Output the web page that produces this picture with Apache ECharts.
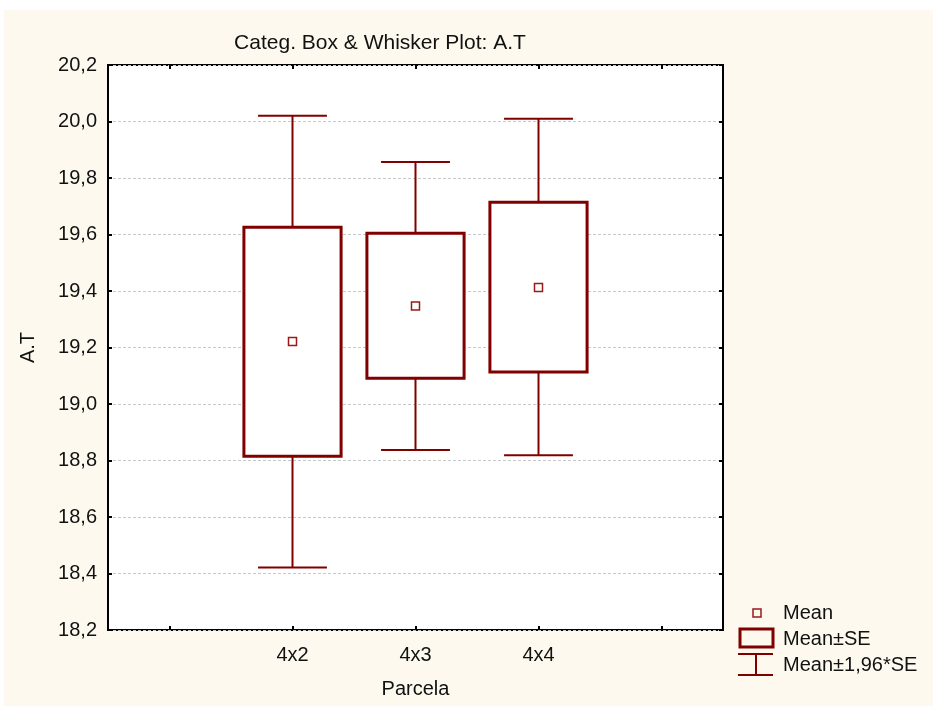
<!DOCTYPE html>
<html>
<head>
<meta charset="utf-8">
<title>Categ. Box &amp; Whisker Plot: A.T</title>
<script src="https://cdn.jsdelivr.net/npm/echarts@6/dist/echarts.min.js"></script>
<style>
  html, body { margin: 0; padding: 0; background: #ffffff; }
  #chart { width: 933px; height: 706px; }
</style>
</head>
<body>
<div id="chart"></div>
<script>
// Groups (Parcela) and the statistics of A.T for each group
const groups = ['4x2', '4x3', '4x4'];
const means = [19.221, 19.347, 19.412];
const seLow = [18.815, 19.091, 19.113];
const seHigh = [19.626, 19.604, 19.714];
const ciLow = [18.421, 18.837, 18.819];
const ciHigh = [20.020, 19.857, 20.010];

// Axis setup
const axisCategories = [''].concat(groups, ['']);
const yMin = 18.2;
const yMax = 20.2;
const yStep = 0.2;

const legendNames = ['Mean', 'Mean\u00b1SE', 'Mean\u00b11,96*SE'];

const RED = '#800000';
const PANEL = '#fdf9ee';
const FONT = "'Liberation Sans', Arial, sans-serif";
const FS = 20;
const KEY_FONT = FS + "px 'Liberation Sans', Arial, sans-serif";

const boxData = groups.map((g, i) => [g, means[i], seLow[i], seHigh[i], ciLow[i], ciHigh[i]]);

function renderBox(params, api) {
  const cat = api.value(0);
  const band = api.size([1, 0])[0];
  const boxHalf = band * 0.395;
  const capHalf = band * 0.28;
  const pMean = api.coord([cat, api.value(1)]);
  const pSeLo = api.coord([cat, api.value(2)]);
  const pSeHi = api.coord([cat, api.value(3)]);
  const pCiLo = api.coord([cat, api.value(4)]);
  const pCiHi = api.coord([cat, api.value(5)]);
  const x = pMean[0];
  const lineStyle = { stroke: RED, lineWidth: 2, fill: null };
  return {
    type: 'group',
    children: [
      // whiskers (mean ± 1.96*SE)
      { type: 'line', shape: { x1: x, y1: pCiHi[1], x2: x, y2: pSeHi[1] }, style: lineStyle },
      { type: 'line', shape: { x1: x, y1: pSeLo[1], x2: x, y2: pCiLo[1] }, style: lineStyle },
      { type: 'line', shape: { x1: x - capHalf, y1: pCiHi[1], x2: x + capHalf, y2: pCiHi[1] }, style: lineStyle },
      { type: 'line', shape: { x1: x - capHalf, y1: pCiLo[1], x2: x + capHalf, y2: pCiLo[1] }, style: lineStyle },
      // box (mean ± SE)
      {
        type: 'rect',
        shape: { x: x - boxHalf, y: pSeHi[1], width: boxHalf * 2, height: pSeLo[1] - pSeHi[1] },
        style: { stroke: RED, lineWidth: 3, fill: '#ffffff' }
      },
      // mean marker
      {
        type: 'rect',
        shape: { x: x - 4, y: pMean[1] - 4, width: 8, height: 8 },
        style: { stroke: '#9a1a1a', lineWidth: 1.5, fill: '#ffffff' }
      }
    ]
  };
}

const chart = echarts.init(document.getElementById('chart'), null, { renderer: 'canvas' });

const tickStyle = { color: '#000', width: 2 };

const option = {
  backgroundColor: '#ffffff',
  animation: false,
  title: {
    text: 'Categ. Box & Whisker Plot: A.T',
    left: 375,
    top: 28,
    textAlign: 'center',
    textStyle: { fontFamily: FONT, fontSize: 21, fontWeight: 'normal', color: '#111' }
  },
  grid: {
    left: 108, top: 65, width: 615, height: 565,
    show: true, backgroundColor: '#ffffff', borderColor: '#000', borderWidth: 2
  },
  xAxis: [
    {
      type: 'category', data: axisCategories, position: 'bottom',
      name: 'Parcela', nameLocation: 'middle', nameGap: 49,
      nameTextStyle: { fontFamily: FONT, fontSize: FS, color: '#111' },
      axisLine: { show: false },
      axisTick: { show: true, inside: true, alignWithLabel: true, length: 4, lineStyle: tickStyle },
      axisLabel: { interval: 0, margin: 15, fontFamily: FONT, fontSize: FS, color: '#111' },
      splitLine: { show: false }
    },
    {
      type: 'category', data: axisCategories, position: 'top',
      axisLine: { show: false },
      axisTick: { show: true, inside: true, alignWithLabel: true, length: 4, lineStyle: tickStyle },
      axisLabel: { show: false },
      splitLine: { show: false }
    }
  ],
  yAxis: [
    {
      type: 'value', min: yMin, max: yMax, interval: yStep, position: 'left',
      name: 'A.T', nameLocation: 'middle', nameGap: 70, nameRotate: 90,
      nameTextStyle: { fontFamily: FONT, fontSize: FS, color: '#111' },
      axisLine: { show: false },
      axisTick: { show: true, inside: true, length: 4, lineStyle: tickStyle },
      axisLabel: {
        margin: 11, fontFamily: FONT, fontSize: FS, color: '#111',
        formatter: v => v.toFixed(1).replace('.', ',')
      },
      splitLine: { show: true, lineStyle: { color: '#c8c8c8', width: 1, type: [3, 2] } }
    },
    {
      type: 'value', min: yMin, max: yMax, interval: yStep, position: 'right',
      axisLine: { show: false },
      axisTick: { show: true, inside: true, length: 4, lineStyle: tickStyle },
      axisLabel: { show: false },
      splitLine: { show: false }
    }
  ],
  series: [
    {
      type: 'custom',
      name: legendNames[1],
      xAxisIndex: 0,
      yAxisIndex: 0,
      renderItem: renderBox,
      encode: { x: 0, y: [1, 2, 3, 4, 5] },
      data: boxData,
      z: 3
    }
  ],
  graphic: [
    // page panel
    { type: 'rect', left: 4, top: 10, z: -10, silent: true,
      shape: { width: 929, height: 696 }, style: { fill: PANEL } },
    // key
    { type: 'rect', z: 10, shape: { x: 753, y: 609, width: 8, height: 8 },
      style: { stroke: '#9a1a1a', lineWidth: 1.5, fill: PANEL } },
    { type: 'text', z: 10, x: 783, y: 613,
      style: { text: legendNames[0], font: KEY_FONT, fill: '#111', verticalAlign: 'middle' } },
    { type: 'rect', z: 10, shape: { x: 740, y: 629, width: 33, height: 18 },
      style: { stroke: RED, lineWidth: 3, fill: PANEL } },
    { type: 'text', z: 10, x: 783, y: 639,
      style: { text: legendNames[1], font: KEY_FONT, fill: '#111', verticalAlign: 'middle' } },
    { type: 'line', z: 10, shape: { x1: 738, y1: 654, x2: 773, y2: 654 }, style: { stroke: RED, lineWidth: 2 } },
    { type: 'line', z: 10, shape: { x1: 738, y1: 675, x2: 773, y2: 675 }, style: { stroke: RED, lineWidth: 2 } },
    { type: 'line', z: 10, shape: { x1: 756, y1: 654, x2: 756, y2: 675 }, style: { stroke: RED, lineWidth: 2 } },
    { type: 'text', z: 10, x: 783, y: 665,
      style: { text: legendNames[2], font: KEY_FONT, fill: '#111', verticalAlign: 'middle' } }
  ]
};

chart.setOption(option);
</script>
</body>
</html>
